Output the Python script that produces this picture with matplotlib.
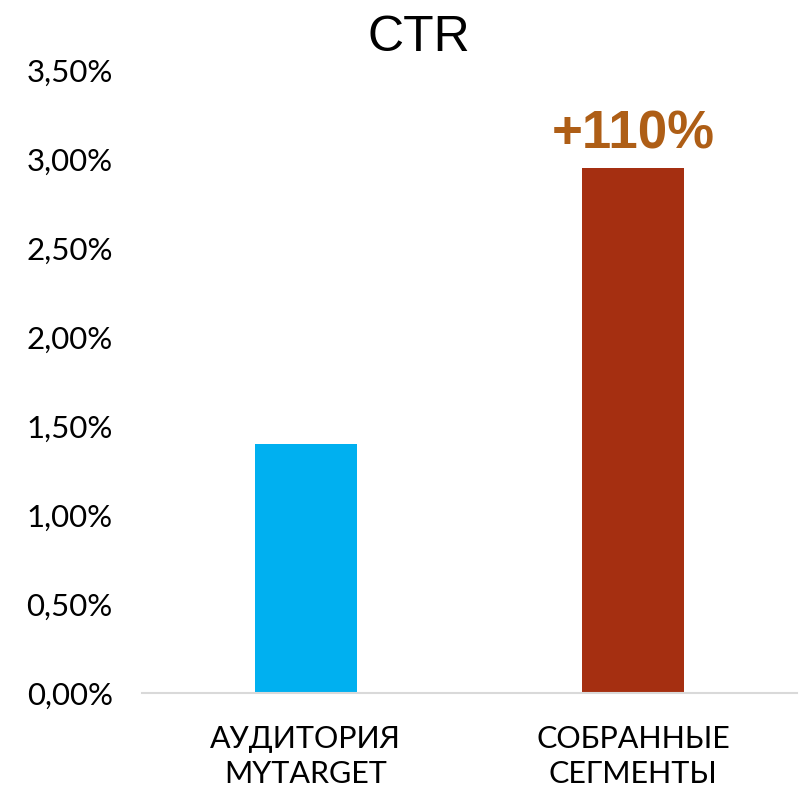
import matplotlib.pyplot as plt
from matplotlib.ticker import FuncFormatter

categories = ["АУДИТОРИЯ\nMYTARGET", "СОБРАННЫЕ\nСЕГМЕНТЫ"]
values = [1.40, 2.95]
colors = ["#00B0F0", "#A52F11"]
growth_label = "+110%"
yticks = [0, 0.5, 1.0, 1.5, 2.0, 2.5, 3.0, 3.5]

plt.rcParams["font.family"] = ["Lato", "DejaVu Sans"]

fig = plt.figure(figsize=(7.99, 7.88), dpi=100)
ax = fig.add_axes([142 / 799, 1 - 693 / 788, (797 - 142) / 799, (693 - 70) / 788])

x = range(len(categories))
bars = ax.bar(x, values, width=0.31, color=colors)

ax.set_xlim(-0.5, 1.5)
ax.set_ylim(0, 3.5)
ax.set_yticks(yticks)
ax.yaxis.set_major_formatter(FuncFormatter(lambda v, p: f"{v:.2f}%".replace(".", ",")))
ax.set_xticks(list(x))
ax.set_xticklabels(categories, fontsize=22, linespacing=1.3)
ax.tick_params(axis="y", labelsize=22.5, length=0, pad=21)
ax.tick_params(axis="x", length=0, pad=23)

for s in ["left", "right", "top"]:
    ax.spines[s].set_visible(False)
ax.spines["bottom"].set_color("#D9D9D9")
ax.spines["bottom"].set_linewidth(1.5)

ax.annotate(growth_label, (1, values[1]), xytext=(0, 6), textcoords="offset points",
            ha="center", va="bottom", fontsize=38, fontweight="bold",
            color="#AE5E16", family="Liberation Sans")

fig.text(419 / 799, 1 - 38 / 788, "CTR", ha="center", va="center",
         fontsize=36, family="Liberation Sans")

fig.savefig("out.png", dpi=100)
